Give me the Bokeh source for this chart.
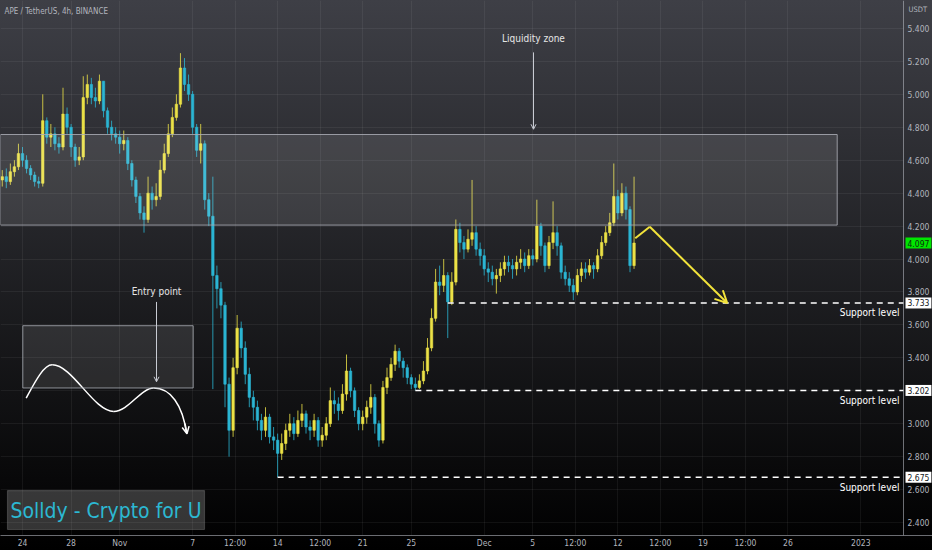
import pandas as pd
from bokeh.plotting import figure
from bokeh.models import (ColumnDataSource, Range1d, FixedTicker, NumeralTickFormatter,
                          BoxAnnotation, Label, Arrow, OpenHead, GlobalInlineStyleSheet)
from bokeh.embed import file_html
from bokeh.resources import INLINE

# APE / USDT, candles (8h steps from Oct 22 08:00)
start = "2022-10-22 08:00"
first_open = 4.48
close = [4.50, 4.47, 4.53, 4.56, 4.64, 4.60, 4.55, 4.51, 4.47, 4.46,
         4.84, 4.74, 4.76, 4.70, 4.68, 4.88, 4.80, 4.68, 4.60, 4.62,
         4.98, 5.06, 4.98, 4.96, 5.08, 4.90, 4.80, 4.76, 4.74, 4.70,
         4.72, 4.58, 4.48, 4.38, 4.28, 4.24, 4.40, 4.36, 4.38, 4.54,
         4.64, 4.76, 4.86, 4.94, 5.16, 5.06, 5.00, 4.80, 4.66, 4.70,
         4.36, 4.26, 3.90, 3.82, 3.72, 3.24, 2.96, 3.34, 3.58, 3.46,
         3.30, 3.16, 3.10, 3.02, 2.96, 3.04, 2.92, 2.90, 2.82, 2.88,
         2.96, 3.00, 2.94, 3.02, 3.06, 2.98, 2.96, 3.02, 2.90, 2.93,
         3.00, 3.14, 3.12, 3.08, 3.18, 3.32, 3.20, 3.08, 3.00, 3.04,
         3.10, 3.16, 3.00, 2.90, 3.22, 3.28, 3.36, 3.44, 3.38, 3.34,
         3.28, 3.24, 3.22, 3.26, 3.32, 3.46, 3.64, 3.86, 3.84, 3.90,
         3.74, 3.86, 4.18, 4.10, 4.06, 4.12, 4.16, 4.06, 4.02, 3.94,
         3.92, 3.88, 3.90, 3.94, 3.98, 3.96, 3.94, 3.98, 4.00, 3.96,
         4.02, 4.00, 4.20, 4.08, 3.96, 4.10, 4.16, 4.08, 3.92, 3.88,
         3.84, 3.80, 3.90, 3.94, 3.92, 3.96, 3.94, 4.02, 4.10, 4.16,
         4.22, 4.38, 4.28, 4.40, 4.30, 3.96, 4.097]
high = [4.54, 4.55, 4.58, 4.60, 4.70, 4.68, 4.63, 4.57, 4.53, 4.50,
        5.00, 4.86, 4.82, 4.80, 4.74, 5.04, 4.92, 4.82, 4.70, 4.68,
        5.11, 5.12, 5.10, 5.04, 5.12, 5.08, 4.92, 4.84, 4.80, 4.78,
        4.78, 4.74, 4.60, 4.50, 4.40, 4.32, 4.50, 4.44, 4.46, 4.60,
        4.70, 4.82, 4.92, 5.00, 5.25, 5.22, 5.12, 5.02, 4.82, 4.82,
        4.72, 4.40, 4.50, 3.96, 3.86, 3.74, 3.28, 3.40, 3.66, 3.62,
        3.50, 3.34, 3.20, 3.14, 3.06, 3.10, 3.06, 2.98, 2.94, 2.94,
        3.00, 3.06, 3.04, 3.08, 3.12, 3.08, 3.02, 3.06, 3.04, 2.98,
        3.04, 3.22, 3.20, 3.16, 3.24, 3.42, 3.34, 3.22, 3.10, 3.08,
        3.14, 3.24, 3.18, 3.02, 3.26, 3.34, 3.40, 3.48, 3.46, 3.40,
        3.36, 3.30, 3.28, 3.30, 3.38, 3.52, 3.70, 3.94, 3.96, 4.00,
        3.92, 3.92, 4.24, 4.22, 4.14, 4.18, 4.48, 4.20, 4.10, 4.06,
        3.98, 3.96, 3.94, 3.98, 4.02, 4.02, 4.00, 4.02, 4.06, 4.04,
        4.06, 4.06, 4.36, 4.22, 4.10, 4.14, 4.35, 4.20, 4.10, 3.96,
        3.92, 3.88, 3.94, 3.98, 3.98, 4.00, 3.98, 4.06, 4.14, 4.20,
        4.28, 4.58, 4.42, 4.46, 4.44, 4.32, 4.50]
low = [4.44, 4.43, 4.45, 4.50, 4.54, 4.56, 4.52, 4.48, 4.44, 4.43,
       4.44, 4.70, 4.68, 4.66, 4.64, 4.66, 4.76, 4.62, 4.56, 4.57,
       4.60, 4.94, 4.94, 4.92, 4.94, 4.86, 4.76, 4.72, 4.70, 4.64,
       4.66, 4.54, 4.44, 4.34, 4.24, 4.16, 4.22, 4.30, 4.32, 4.36,
       4.52, 4.62, 4.74, 4.84, 4.92, 5.02, 4.96, 4.76, 4.62, 4.58,
       4.30, 4.20, 3.21, 3.70, 3.64, 3.10, 2.80, 2.92, 3.30, 3.40,
       3.24, 3.10, 3.02, 2.96, 2.90, 2.92, 2.88, 2.84, 2.675, 2.78,
       2.84, 2.92, 2.90, 2.92, 2.98, 2.94, 2.90, 2.92, 2.86, 2.86,
       2.90, 2.98, 3.06, 3.02, 3.06, 3.14, 3.16, 3.04, 2.96, 2.96,
       3.00, 3.06, 2.94, 2.86, 2.88, 3.18, 3.26, 3.32, 3.34, 3.28,
       3.24, 3.21, 3.202, 3.21, 3.24, 3.30, 3.44, 3.62, 3.78, 3.80,
       3.52, 3.72, 3.84, 4.04, 4.00, 4.04, 4.08, 4.02, 3.96, 3.90,
       3.86, 3.84, 3.79, 3.86, 3.90, 3.92, 3.88, 3.90, 3.94, 3.92,
       3.94, 3.96, 3.98, 4.02, 3.92, 3.94, 4.06, 4.02, 3.88, 3.84,
       3.80, 3.75, 3.78, 3.86, 3.88, 3.90, 3.88, 3.92, 4.00, 4.08,
       4.14, 4.20, 4.24, 4.26, 4.24, 3.92, 3.94]

support_levels = [3.733, 3.202, 2.675]
support_from = [110, 102, 68]          # candle where each level was drawn from
last_price = 4.097
zone_top, zone_bottom = 4.756, 4.206    # liquidity zone
entry_top, entry_bottom = 3.595, 3.217  # entry box

tick_days = [0, 4, 8, 14, 17.5, 21, 24.5, 28, 32, 38, 42, 45.5, 49, 52.5, 56, 59.5, 63, 69]
tick_labels = ["24", "28", "Nov", "7", "12:00", "14", "12:00", "21", "25", "Dec",
               "5", "12:00", "12", "12:00", "19", "12:00", "26", "2023"]
price_ticks = [2.4, 2.6, 2.8, 3.0, 3.2, 3.4, 3.6, 3.8, 4.0, 4.2, 4.4, 4.6, 4.8, 5.0, 5.2, 5.4]

UP = "#ece247"
DOWN = "#2bb5d3"
FONT = "Liberation Sans Narrow, DejaVu Sans Condensed, Roboto"
GREY = "#b2b5be"


# screenshot pixel -> data, only used to place the hand drawn bits
def px(x):
    return (x - 22) / 12.15


def py(y):
    return 5.4 - (y - 28) / 165


t = pd.date_range(start, periods=len(close), freq="8h")
days = (t - pd.Timestamp("2022-10-24")) / pd.Timedelta(days=1)
opens = [first_open] + close[:-1]
colors = [UP if c >= o else DOWN for o, c in zip(opens, close)]
src = ColumnDataSource(dict(t=list(days), open=opens, close=close, high=high, low=low, color=colors))

axis_x = px(903)   # price scale sits inside the frame, like the screenshot
p = figure(width=932, height=550, x_range=Range1d(px(0), px(932)), y_range=Range1d(py(536), py(0)),
           output_backend="svg", toolbar_location=None, y_axis_location="right",
           min_border_left=0, min_border_top=0, min_border_right=0, min_border_bottom=0,
           background_fill_alpha=0, border_fill_alpha=0, outline_line_color=None)
p.stylesheets = [GlobalInlineStyleSheet(css="html{background:linear-gradient(180deg,#3e3f46 0%,#000 100%) no-repeat;min-height:100%;} body{background:transparent;overflow:hidden;}")]

p.xaxis.ticker = FixedTicker(ticks=tick_days)
p.xaxis.major_label_overrides = {float(d): l for d, l in zip(tick_days, tick_labels)}
p.yaxis.ticker = FixedTicker(ticks=price_ticks)
p.yaxis.formatter = NumeralTickFormatter(format="0.000")
p.yaxis.fixed_location = axis_x
for ax in (p.xaxis, p.yaxis):
    ax.major_tick_line_color = None
    ax.minor_tick_line_color = None
    ax.major_tick_out = 0
    ax.major_tick_in = 0
    ax.minor_tick_out = 0
    ax.axis_line_color = "#b2b5be"
    ax.axis_line_alpha = 0.6
    ax.major_label_text_color = GREY
    ax.major_label_text_font = FONT
    ax.major_label_text_font_size = "8.5px"
p.xaxis.major_label_standoff = 2
p.yaxis.major_label_standoff = 4
p.grid.grid_line_color = "#ffffff"
p.grid.grid_line_alpha = 0.06
p.ygrid.cross_bounds = (px(0), axis_x)

# candles
p.segment(x0="t", y0="high", x1="t", y1="low", color="color", line_width=1, alpha=0.8, source=src)
p.vbar(x="t", width=0.2, top="close", bottom="open", fill_color="color", line_color="color",
       line_width=0.6, source=src)

# liquidity zone
p.add_layout(BoxAnnotation(right=px(836.7), top=zone_top, bottom=zone_bottom, fill_color="#ffffff",
                           fill_alpha=0.11, line_color="#a9acb4", line_alpha=0.85, line_width=1))
p.add_layout(Label(x=px(533), y=py(38), text="Liquidity zone", text_align="center", text_baseline="middle",
                   text_color="#e6e6e6", text_font=FONT, text_font_size="10px"))
p.add_layout(Arrow(end=OpenHead(size=5, line_color="#c8cbd3", line_width=1), line_color="#c8cbd3",
                   line_width=1, x_start=px(533), y_start=py(52), x_end=px(533), y_end=py(129)))

# entry box and the hand drawn path
p.add_layout(BoxAnnotation(left=px(22.3), right=px(192.7), top=entry_top, bottom=entry_bottom,
                           fill_color="#ffffff", fill_alpha=0.10, line_color="#a9acb4", line_alpha=0.8,
                           line_width=1))
p.add_layout(Label(x=px(156), y=py(292), text="Entry point", text_align="center", text_baseline="middle",
                   text_color="#e6e6e6", text_font=FONT, text_font_size="10px"))
p.add_layout(Arrow(end=OpenHead(size=5, line_color="#c8cbd3", line_width=1), line_color="#c8cbd3",
                   line_width=1, x_start=px(156), y_start=py(302), x_end=px(156), y_end=py(382)))
p.bezier(x0=[px(25.7), px(51.7), px(113.3), px(153.3)], y0=[py(398.3), py(365), py(411.7), py(388.3)],
         x1=[px(51.7), px(113.3), px(153.3), px(186)], y1=[py(365), py(411.7), py(388.3), py(433.3)],
         cx0=[px(34), px(72), px(128), px(170)], cy0=[py(383), py(365), py(411.7), py(388.3)],
         cx1=[px(43), px(93), px(140), px(182)], cy1=[py(365), py(411.7), py(388.3), py(405)],
         line_color="white", line_width=1.5)
p.add_layout(Arrow(end=OpenHead(size=7, line_color="white", line_width=1.5), line_color="white",
                   line_width=1.5, x_start=px(184.5), y_start=py(424), x_end=px(186.5), y_end=py(434)))

# support levels
p.segment(x0=[days[i] for i in support_from], y0=support_levels, x1=[axis_x] * 3, y1=support_levels,
          line_color="white", line_width=1.6, line_dash="6 5")
for lvl in support_levels:
    p.add_layout(Label(x=px(899), y=lvl, y_offset=-10, text="Support level", text_align="right",
                       text_baseline="middle", text_color="white", text_font=FONT, text_font_size="10px"))
    p.add_layout(Label(x=axis_x, y=lvl, x_offset=2, text=f"{lvl:.3f}", text_align="left",
                       text_baseline="middle", text_color="#131722", text_font=FONT, text_font_size="8.5px",
                       background_fill_color="white", padding=2))

# projected move
p.line([days[-1] + 0.1, px(649.3)], [4.126, py(226.7)], line_color="#f2e33b", line_width=2)
p.add_layout(Arrow(end=OpenHead(size=12, line_color="#f2e33b", line_width=2), line_color="#f2e33b",
                   line_width=2, x_start=px(649.3), y_start=py(226.7), x_end=px(726.7), y_end=support_levels[0]))

# last price tag, header, watermark
p.add_layout(Label(x=axis_x, y=last_price, x_offset=2, text=f"{last_price:.3f}", text_align="left",
                   text_baseline="middle", text_color="#0d2b0d", text_font=FONT, text_font_size="8.5px",
                   background_fill_color="#00e600", padding=2))
p.add_layout(Label(x=axis_x, x_offset=5, y=py(9), text="USDT", text_align="left", text_baseline="middle",
                   text_color=GREY, text_font=FONT, text_font_size="7.5px"))
p.add_layout(Label(x=px(4), y=py(11), text="APE / TetherUS, 4h, BINANCE", text_align="left",
                   text_baseline="middle", text_color=GREY, text_font=FONT, text_font_size="8px"))
p.add_layout(BoxAnnotation(left=px(7), right=px(204), top=py(491), bottom=py(530), fill_color="#ffffff",
                           fill_alpha=0.2, line_color="#9a9a9a", line_width=1.2))
p.add_layout(Label(x=px(105.5), y=py(511), text="Solldy - Crypto for U", text_align="center",
                   text_baseline="middle", text_color="#2cb8d2", text_font=FONT, text_font_size="21px"))

open("out.html", "w").write(file_html(p, INLINE))
